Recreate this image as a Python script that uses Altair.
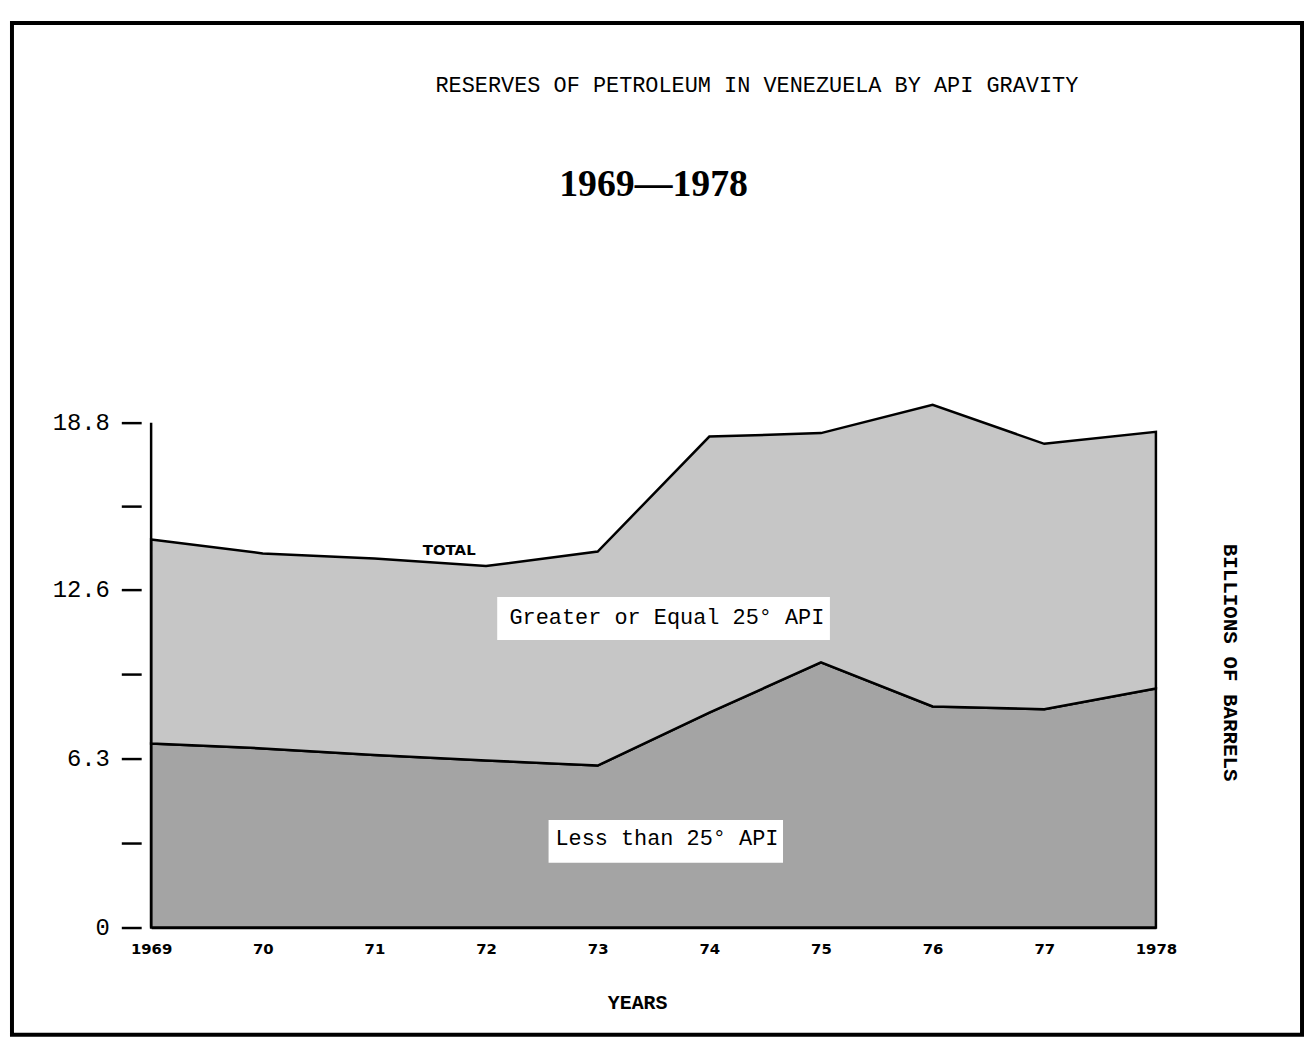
import altair as alt
import pandas as pd

# ---- data ----
years = [1969, 1970, 1971, 1972, 1973, 1974, 1975, 1976, 1977, 1978]
year_labels = ["1969", "70", "71", "72", "73", "74", "75", "76", "77", "1978"]
less_25 = [6.85, 6.67, 6.42, 6.22, 6.03, 8.00, 9.87, 8.23, 8.13, 8.90]
greater_25 = [7.60, 7.26, 7.32, 7.24, 7.97, 10.28, 8.54, 11.23, 9.88, 9.56]
series_names = ["Less than 25° API", "Greater or Equal 25° API"]
series_fill = ["#a4a4a4", "#c6c6c6"]
y_tick_values = [0, 3.15, 6.3, 9.45, 12.6, 15.7, 18.8]
y_tick_labels = ["0", "", "6.3", "", "12.6", "", "18.8"]

# label boxes (data units)
box_x = [1972.10, 1972.56]
box_x2 = [1975.08, 1974.66]
box_y = [12.31, 4.00]
box_y2 = [10.71, 2.41]
label_x = [1973.62, 1973.62]
label_y = [11.56, 3.34]
label_text = ["Greater or Equal 25° API", "Less than 25° API"]
total_x = [1971.67]
total_y = [14.05]
total_text = ["TOTAL"]

title_text = ["RESERVES OF PETROLEUM IN VENEZUELA BY API GRAVITY"]
subtitle_text = ["1969\u20141978"]

rows = []
for i, yr in enumerate(years):
    rows.append({"year": yr, "series": series_names[0], "value": less_25[i], "order": 0})
    rows.append({"year": yr, "series": series_names[1], "value": greater_25[i], "order": 1})
df = pd.DataFrame(rows)

x_label_expr = "[" + ",".join("'%s'" % s for s in year_labels) + "][datum.value - %d]" % years[0]
y_label_expr = ("[" + ",".join("'%s'" % s for s in y_tick_labels) + "][indexof(["
                + ",".join(str(v) for v in y_tick_values) + "], datum.value)]")

x_enc = alt.X(
    "year:Q",
    scale=alt.Scale(domain=[years[0], years[-1]], nice=False, zero=False),
    axis=alt.Axis(
        values=years, labelExpr=x_label_expr, ticks=False, grid=False,
        domainWidth=2.5, domainColor="black", labelFlush=False,
        labelFont="DejaVu Sans", labelFontWeight="bold", labelFontSize=15,
        labelColor="black", labelPadding=14,
        title="YEARS", titleFont="Liberation Mono", titleFontSize=20,
        titleFontWeight="bold", titleColor="black",
        titleX=489, titleY=75, titleBaseline="middle", titleAlign="center",
    ),
)
y_enc = alt.Y(
    "value:Q", stack="zero",
    scale=alt.Scale(domain=[0, 18.8], nice=False),
    axis=alt.Axis(
        values=y_tick_values, labelExpr=y_label_expr, domain=False, offset=10,
        tickSize=20, tickWidth=2.5, tickColor="black", grid=False,
        labelFont="Liberation Mono", labelFontSize=24, labelColor="black",
        labelPadding=12,
        title="BILLIONS OF BARRELS", titleFont="Liberation Mono",
        titleFontSize=21, titleFontWeight="bold", titleColor="black",
        titleX=1095, titleY=241, titleAngle=90, titleAlign="center",
        titleBaseline="middle",
    ),
)

area = alt.Chart(df).mark_area(
    stroke="black", strokeWidth=2.5, strokeJoin="miter", opacity=1
).encode(
    x=x_enc,
    y=y_enc,
    color=alt.Color("series:N", scale=alt.Scale(domain=series_names, range=series_fill), legend=None),
    order=alt.Order("order:Q", sort="ascending"),
)

axis_line = alt.Chart(pd.DataFrame({
    "year": [years[0]], "value": [y_tick_values[0]], "value2": [y_tick_values[-1]]
})).mark_rule(color="black", strokeWidth=2.5).encode(
    x="year:Q", y="value:Q", y2="value2:Q"
)

boxes = alt.Chart(pd.DataFrame({
    "year": box_x, "year2": box_x2, "value": box_y, "value2": box_y2
})).mark_rect(fill="white").encode(
    x="year:Q", x2="year2:Q", y="value:Q", y2="value2:Q"
)

labels = alt.Chart(pd.DataFrame({
    "year": label_x, "value": label_y, "text": label_text
})).mark_text(
    font="Liberation Mono", fontSize=22, color="black", align="center", baseline="middle"
).encode(x="year:Q", y="value:Q", text="text:N")

total = alt.Chart(pd.DataFrame({
    "year": total_x, "value": total_y, "text": total_text
})).mark_text(
    font="DejaVu Sans", fontSize=15, fontWeight="bold", color="black",
    align="center", baseline="middle"
).encode(x="year:Q", y="value:Q", text="text:N")

title = alt.Chart(pd.DataFrame({"text": title_text})).mark_text(
    font="Liberation Mono", fontSize=22, color="black",
    align="center", baseline="middle"
).encode(x=alt.value(609.5), y=alt.value(-340), text="text:N")

subtitle = alt.Chart(pd.DataFrame({"text": subtitle_text})).mark_text(
    font="Liberation Serif", fontSize=38, fontWeight="bold", color="black",
    align="center", baseline="middle"
).encode(x=alt.value(505.5), y=alt.value(-239), text="text:N")

frame = alt.Chart(pd.DataFrame({"k": [0]})).mark_rect(
    fillOpacity=0, stroke="black", strokeWidth=4
).encode(x=alt.value(-140), x2=alt.value(1158), y=alt.value(-402), y2=alt.value(616))

chart = alt.layer(area, axis_line, boxes, labels, total, title, subtitle, frame).properties(
    width=1011,
    height=508,
    autosize=alt.AutoSizeParams(type="none"),
    padding={"left": 144, "top": 414, "right": 149, "bottom": 113},
    background="white",
).configure_view(strokeWidth=0)

chart.save("out.html", embed_options={"renderer": "svg", "actions": False})
